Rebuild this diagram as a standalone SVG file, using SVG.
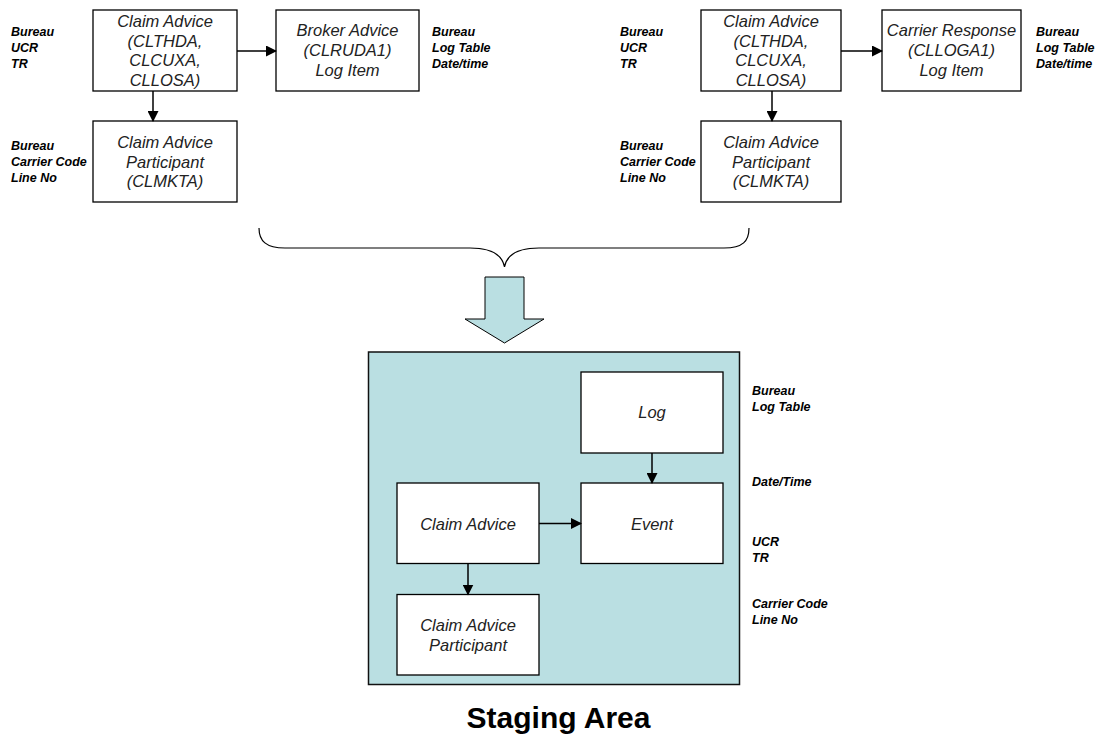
<svg xmlns="http://www.w3.org/2000/svg" width="1108" height="738" viewBox="0 0 1108 738">
<style>
.box{fill:#fff;stroke:#000;stroke-width:1.3}
.t{font-family:"Liberation Sans",Arial,sans-serif;font-style:italic;font-size:16.5px;fill:#222;text-anchor:middle}
.l{font-family:"Liberation Sans",Arial,sans-serif;font-style:italic;font-weight:bold;font-size:12.5px;fill:#000}
.c{stroke:#000;stroke-width:1.5;fill:none;marker-end:url(#ah)}
</style>
<defs>
<marker id="ah" markerWidth="11" markerHeight="11" refX="10" refY="5.5" orient="auto" markerUnits="userSpaceOnUse">
<path d="M0,0 L11,5.5 L0,11 z" fill="#000"/>
</marker>
</defs>
<rect width="1108" height="738" fill="#fff"/>

<g id="left-claim"><rect class="box" x="93" y="10" width="144" height="81"/>
<text class="t" x="165" y="27">Claim Advice</text><text class="t" x="165" y="46.5">(CLTHDA,</text><text class="t" x="165" y="66">CLCUXA,</text><text class="t" x="165" y="86">CLLOSA)</text></g>
<g id="left-broker"><rect class="box" x="276" y="10" width="143" height="81"/>
<text class="t" x="347.5" y="36">Broker Advice</text><text class="t" x="347.5" y="55.5">(CLRUDA1)</text><text class="t" x="347.5" y="75.5">Log Item</text></g>
<g id="left-part"><rect class="box" x="93" y="121" width="144" height="81"/>
<text class="t" x="165" y="148">Claim Advice</text><text class="t" x="165" y="167.5">Participant</text><text class="t" x="165" y="187">(CLMKTA)</text></g>
<g id="left-labels">
<text class="l" x="11" y="36">Bureau</text><text class="l" x="11" y="52">UCR</text><text class="l" x="11" y="68">TR</text>
<text class="l" x="11" y="150">Bureau</text><text class="l" x="11" y="166">Carrier Code</text><text class="l" x="11" y="182">Line No</text>
<text class="l" x="432" y="36">Bureau</text><text class="l" x="432" y="52">Log Table</text><text class="l" x="432" y="68">Date/time</text>
</g>

<g id="right-claim"><rect class="box" x="701" y="10" width="140" height="81"/>
<text class="t" x="771" y="27">Claim Advice</text><text class="t" x="771" y="46.5">(CLTHDA,</text><text class="t" x="771" y="66">CLCUXA,</text><text class="t" x="771" y="86">CLLOSA)</text></g>
<g id="right-carrier"><rect class="box" x="882" y="10" width="139" height="81"/>
<text class="t" x="951.5" y="36">Carrier Response</text><text class="t" x="951.5" y="55.5">(CLLOGA1)</text><text class="t" x="951.5" y="75.5">Log Item</text></g>
<g id="right-part"><rect class="box" x="701" y="121" width="140" height="81"/>
<text class="t" x="771" y="148">Claim Advice</text><text class="t" x="771" y="167.5">Participant</text><text class="t" x="771" y="187">(CLMKTA)</text></g>
<g id="right-labels">
<text class="l" x="620" y="36">Bureau</text><text class="l" x="620" y="52">UCR</text><text class="l" x="620" y="68">TR</text>
<text class="l" x="620" y="150">Bureau</text><text class="l" x="620" y="166">Carrier Code</text><text class="l" x="620" y="182">Line No</text>
<text class="l" x="1036" y="36">Bureau</text><text class="l" x="1036" y="52">Log Table</text><text class="l" x="1036" y="68">Date/time</text>
</g>

<g id="brace"><path d="M259,228 C259,241 266,248 285,248 L470,248 C490,248 502,254 504.5,267 C507,254 519,248 539,248 L724,248 C743,248 749,241 749,228" fill="none" stroke="#000" stroke-width="1.2"/></g>
<g id="block-arrow"><polygon points="485,277 524,277 524,319 544,319 504.5,343 465,319 485,319" fill="#BADFE2" stroke="#000" stroke-width="1"/></g>

<g id="staging"><rect x="368.5" y="352" width="371" height="332.5" fill="#BADFE2" stroke="#111" stroke-width="1.5"/></g>
<g id="log"><rect class="box" x="581" y="372" width="142" height="81"/><text class="t" x="652" y="418">Log</text></g>
<g id="event"><rect class="box" x="581" y="483" width="142" height="80.5"/><text class="t" x="652" y="530">Event</text></g>
<g id="claim"><rect class="box" x="397" y="483" width="142" height="80.5"/><text class="t" x="468" y="530">Claim Advice</text></g>
<g id="participant"><rect class="box" x="397" y="594.5" width="142" height="80.5"/><text class="t" x="468" y="631">Claim Advice</text><text class="t" x="468" y="651">Participant</text></g>
<g id="staging-labels">
<text class="l" x="752" y="395">Bureau</text><text class="l" x="752" y="411">Log Table</text>
<text class="l" x="752" y="486">Date/Time</text>
<text class="l" x="752" y="546">UCR</text><text class="l" x="752" y="562">TR</text>
<text class="l" x="752" y="608">Carrier Code</text><text class="l" x="752" y="624">Line No</text>
</g>
<text x="558.5" y="728" font-family="'Liberation Sans',Arial,sans-serif" font-weight="bold" font-size="30" text-anchor="middle" fill="#000">Staging Area</text>

<g id="connectors">
<line class="c" x1="237" y1="51" x2="276" y2="51"/>
<line class="c" x1="153" y1="91" x2="153" y2="121"/>
<line class="c" x1="841" y1="51" x2="882" y2="51"/>
<line class="c" x1="772" y1="91" x2="772" y2="121"/>
<line class="c" x1="652" y1="453" x2="652" y2="483"/>
<line class="c" x1="539" y1="523.5" x2="581" y2="523.5"/>
<line class="c" x1="468" y1="563.5" x2="468" y2="594.5"/>
</g>
</svg>
